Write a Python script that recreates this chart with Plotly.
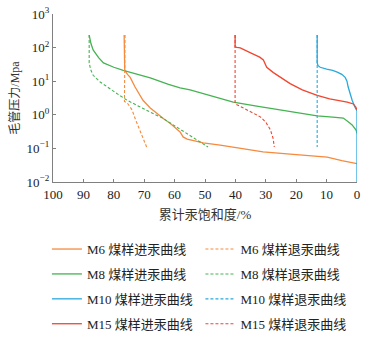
import plotly.graph_objects as go

# ---- data (saturation %, capillary pressure MPa) ----
m6_in_x = [76.6, 76.6, 76.4, 75.5, 74.6, 73.0, 70.4, 68.0, 65.3, 63.5, 61.5, 58.2, 57.2, 55.9, 53.0, 50.6, 45.0, 40.7, 35.0, 30.9, 22.0, 13.1, 9.8, 5.0, 0.0]
m6_in_y = [237, 60, 21, 16, 13, 6.7, 2.7, 1.6, 1.0, 0.75, 0.56, 0.31, 0.22, 0.19, 0.165, 0.145, 0.125, 0.11, 0.093, 0.079, 0.068, 0.06, 0.055, 0.043, 0.035]
m6_out_x = [76.3, 76.5, 76.5, 75.5, 74.0, 72.8, 71.4, 70.3, 69.2]
m6_out_y = [237, 10, 2.5, 2.2, 1.4, 0.7, 0.35, 0.18, 0.11]

m8_in_x = [88.1, 87.5, 86.8, 85.0, 83.4, 80.0, 76.9, 72.0, 68.0, 62.0, 58.2, 54.9, 48.0, 40.7, 33.0, 25.3, 19.0, 13.1, 8.0, 4.5, 2.9, 1.6, 0.3, 0.0]
m8_in_y = [237, 130, 85, 50, 35, 26, 21, 16, 12.6, 8.0, 6.3, 5.5, 3.7, 2.4, 1.8, 1.4, 1.12, 0.93, 0.85, 0.8, 0.62, 0.5, 0.35, 0.28]
m8_out_x = [88.1, 88.1, 87.6, 86.8, 84.5, 82.2, 79.0, 75.6, 72.0, 68.0, 64.0, 60.5, 57.5, 54.9, 52.0, 49.0]
m8_out_y = [237, 35, 22, 15, 9.5, 6.7, 4.3, 2.7, 1.8, 1.2, 0.8, 0.5, 0.35, 0.25, 0.17, 0.11]

m10_in_x = [13.1, 13.1, 12.8, 12.1, 10.0, 8.0, 6.5, 5.0, 3.9, 3.3, 2.9, 2.2, 1.6, 0.7, 0.0, 0.0]
m10_in_y = [237, 35, 29, 26, 23, 21, 18.6, 16, 13, 10, 6.7, 4.0, 2.7, 1.7, 1.3, 0.01]
m10_out_x = [13.1, 13.1]
m10_out_y = [237, 0.11]

m15_in_x = [40.1, 40.1, 39.5, 38.4, 35.0, 32.0, 30.8, 30.2, 29.7, 27.5, 25.3, 22.0, 18.0, 13.1, 9.0, 3.2, 1.2, 0.4, 0.0]
m15_in_y = [237, 105, 102, 98, 70, 52, 43, 33, 26, 18, 13.4, 8.5, 5.5, 3.8, 3.0, 2.4, 2.1, 1.7, 1.4]
m15_out_x = [40.1, 40.1, 39.5, 38.0, 36.1, 33.5, 31.8, 30.0, 28.5, 27.6, 27.2]
m15_out_y = [237, 2.2, 2.0, 1.7, 1.4, 1.1, 0.87, 0.6, 0.36, 0.2, 0.11]

x_ticks = [100, 90, 80, 70, 60, 50, 40, 30, 20, 10, 0]
y_tickvals = [0.01, 0.1, 1, 10, 100, 1000]
y_ticktext = ["10<sup>−2</sup>", "10<sup>−1</sup>", "10<sup>0</sup>", "10<sup>1</sup>", "10<sup>2</sup>", "10<sup>3</sup>"]

names_in = ["M6 煤样进汞曲线", "M8 煤样进汞曲线", "M10 煤样进汞曲线", "M15 煤样进汞曲线"]
names_out = ["M6 煤样退汞曲线", "M8 煤样退汞曲线", "M10 煤样退汞曲线", "M15 煤样退汞曲线"]
colors = ["#f68a3e", "#45b352", "#2aa9dc", "#f04630"]

FONT = "Liberation Serif, Noto Sans CJK SC, serif"

fig = go.Figure()
ins = [(m6_in_x, m6_in_y), (m8_in_x, m8_in_y), (m10_in_x, m10_in_y), (m15_in_x, m15_in_y)]
outs = [(m6_out_x, m6_out_y), (m8_out_x, m8_out_y), (m10_out_x, m10_out_y), (m15_out_x, m15_out_y)]

for i, ((x, y), name, c) in enumerate(zip(ins, names_in, colors)):
    fig.add_trace(go.Scatter(x=x, y=y, mode="lines", name=name, legend="legend",
                             legendgroup=f"in{i}",
                             line=dict(color=c, width=1.3)))
for i, ((x, y), name, c) in enumerate(zip(outs, names_out, colors)):
    fig.add_trace(go.Scatter(x=x, y=y, mode="lines", name=name, legend="legend2",
                             legendgroup=f"out{i}",
                             line=dict(color=c, width=1.1, dash="3px,2px")))

legend_common = dict(orientation="v", xanchor="left", yanchor="top",
                     font=dict(family=FONT, size=13, color="#222"),
                     bgcolor="rgba(0,0,0,0)", tracegroupgap=5, itemwidth=30,
                     traceorder="grouped")

fig.update_layout(
    width=375, height=339,
    margin=dict(l=53, r=18, t=14, b=157, autoexpand=False),
    paper_bgcolor="white", plot_bgcolor="white",
    font=dict(family=FONT, size=13, color="#222"),
    showlegend=True,
    legend=dict(x=-0.02, y=-0.31, **legend_common),
    legend2=dict(x=0.485, y=-0.31, **legend_common),
    xaxis=dict(range=[100, 0], tickvals=x_ticks, ticks="inside", ticklen=3,
               tickcolor="#808080", showline=True, linecolor="#808080", linewidth=1.2,
               showgrid=False, zeroline=False, mirror=False, automargin=False,
               ticklabeloverflow="allow",
               tickfont=dict(family=FONT, size=13, color="#222"),
               title=dict(text="累计汞饱和度/%", font=dict(family=FONT, size=13, color="#333"), standoff=9)),
    yaxis=dict(type="log", range=[-2, 3], tickvals=y_tickvals, ticktext=y_ticktext,
               ticks="inside", ticklen=3, tickcolor="#808080",
               showline=True, linecolor="#808080", linewidth=1.2,
               showgrid=False, zeroline=False, automargin=False,
               ticklabeloverflow="allow",
               tickfont=dict(family=FONT, size=13, color="#222"),
               title=dict(text="毛管压力/Mpa", font=dict(family=FONT, size=12, color="#333"), standoff=4)),
)

# remove the default 8px page margin so the figure sits at the window origin
fig.write_html("out.html", config={"displayModeBar": False},
               post_script="document.body.style.margin='0';")
